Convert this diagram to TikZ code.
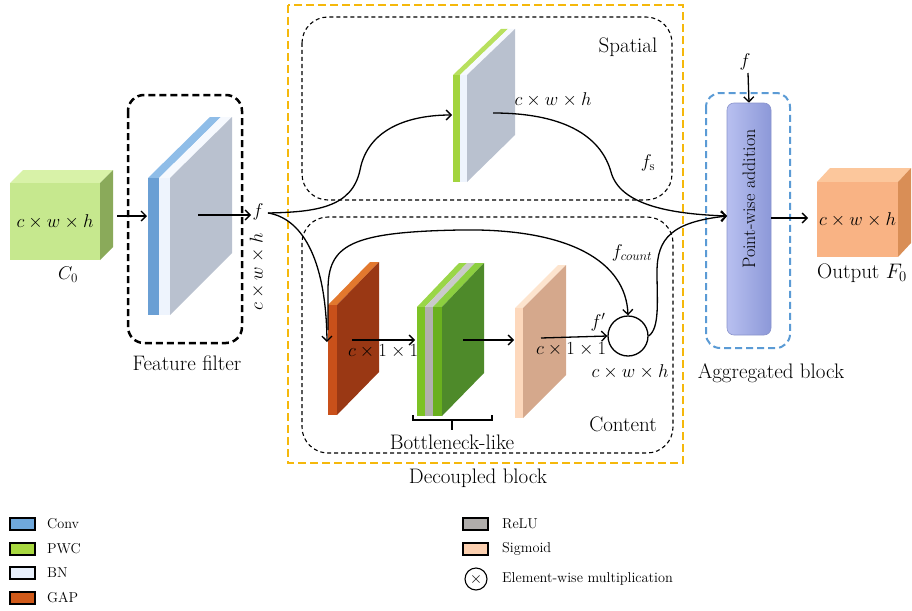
\RequirePackage{fix-cm}
\documentclass[tikz,border=0pt]{standalone}
\usetikzlibrary{arrows.meta}
\definecolor{convblue}{HTML}{6A9FD4}
\definecolor{convtop}{HTML}{8FBDE8}
\definecolor{bnwhite}{HTML}{EEF4FD}
\definecolor{bntop}{HTML}{F6F9FE}
\definecolor{slabgray}{HTML}{B9C1CF}
\definecolor{pwcgreen}{HTML}{A2D43E}
\definecolor{pwctop}{HTML}{B8E05E}
\definecolor{gapfront}{HTML}{C9501A}
\definecolor{gaptop}{HTML}{E2782E}
\definecolor{gapside}{HTML}{9A3814}
\definecolor{bnkA}{HTML}{7CC225}
\definecolor{bnkAtop}{HTML}{9AD648}
\definecolor{relugray}{HTML}{B2B0AE}
\definecolor{relutop}{HTML}{CACACA}
\definecolor{bnkB}{HTML}{6AB01E}
\definecolor{bnkBtop}{HTML}{8CCF40}
\definecolor{bnkside}{HTML}{4E8A2A}
\definecolor{sigfront}{HTML}{FDD8BC}
\definecolor{sigtop}{HTML}{FDE4CE}
\definecolor{sigside}{HTML}{D5A88C}
\definecolor{cubeGfront}{HTML}{C6E88E}
\definecolor{cubeGtop}{HTML}{D8F2A8}
\definecolor{cubeGside}{HTML}{8AAA5A}
\definecolor{cubeOfront}{HTML}{F9B384}
\definecolor{cubeOtop}{HTML}{FCC79C}
\definecolor{cubeOside}{HTML}{D98E56}
\definecolor{decoupled}{HTML}{F5B80C}
\definecolor{aggblue}{HTML}{5B9BD5}
\definecolor{barleft}{HTML}{B8C0F0}
\definecolor{barright}{HTML}{8C98D8}
\definecolor{barline}{HTML}{8A94CC}
\definecolor{legconv}{HTML}{6FA8DC}
\definecolor{legpwc}{HTML}{A8D840}
\definecolor{legbn}{HTML}{E8F0FC}
\definecolor{leggap}{HTML}{D05A1A}
\definecolor{legrelu}{HTML}{B0ADAB}
\definecolor{legsig}{HTML}{FCD0B0}
\tikzset{
  lbl/.style={inner sep=0pt, font=\fontsize{21}{24}\selectfont},
  mlbl/.style={inner sep=0pt, font=\fontsize{18.5}{21}\selectfont},
  leglbl/.style={inner sep=0pt, anchor=west, font=\fontsize{14.3}{17}\selectfont},
  legbox/.style={draw=black, line width=1.2pt},
  flow/.style={line width=1.3pt, -{Straight Barb[length=5pt,width=10pt,line width=1.3pt]}},
  filterbox/.style={draw=black, line width=2.5pt, dash pattern=on 7pt off 4pt, rounded corners=16pt},
  innerbox/.style={draw=black, line width=1.1pt, dash pattern=on 4pt off 3pt, rounded corners=26pt},
  outerbox/.style={draw=decoupled, line width=2.5pt, dash pattern=on 8pt off 4pt},
  aggbox/.style={draw=aggblue, line width=2pt, dash pattern=on 7pt off 4pt, rounded corners=14pt},
}
\begin{document}
\begin{tikzpicture}[x=1pt,y=-1pt]
\useasboundingbox (0,0) rectangle (912,610);

% ---------- dashed group frames ----------
\draw[outerbox] (288,5) rectangle (683,463);
\draw[innerbox] (302,17) rectangle (672,200);
\draw[innerbox] (302,217) rectangle (673,453);
\draw[filterbox] (128,95) rectangle (242,343);
\draw[aggbox] (706,93) rectangle (790,348);

% ---------- input cube C0 ----------
\fill[cubeGtop] (10,183) -- (100,183) -- (113,170) -- (23,170) -- cycle;
\fill[cubeGside] (100,183) -- (113,170) -- (113,247) -- (100,260) -- cycle;
\node[fill=cubeGfront, minimum width=90pt, minimum height=77pt, inner sep=0pt,
      font=\fontsize{18.5}{21}\selectfont] (c0) at (55,221.5) {$c\times w\times h$};
\node[mlbl] (c0lbl) at (68,275) {$C_0$};

% ---------- feature filter slab (Conv + BN) ----------
\fill[convtop] (148,178) -- (159,178) -- (221,117) -- (210,117) -- cycle;
\fill[bntop] (159,178) -- (170,178) -- (232,117) -- (221,117) -- cycle;
\fill[convblue] (148,178) rectangle (159,315);
\fill[bnwhite] (159,178) rectangle (170,315);
\fill[slabgray] (170,178) -- (232,117) -- (232,253) -- (170,315) -- cycle;
\node[lbl] (fflbl) at (187,363) {Feature filter};

% ---------- spatial slab (PWC + BN) ----------
\fill[pwctop] (453,75) -- (460,75) -- (508,29) -- (501,29) -- cycle;
\fill[bntop] (460,75) -- (467,75) -- (515,29) -- (508,29) -- cycle;
\fill[pwcgreen] (453,75) rectangle (460,182);
\fill[bnwhite] (460,75) rectangle (467,182);
\fill[slabgray] (467,75) -- (515,29) -- (515,135) -- (467,182) -- cycle;

% ---------- GAP slab ----------
\fill[gaptop] (328,305) -- (337,305) -- (379,262) -- (370,262) -- cycle;
\fill[gapfront] (328,305) rectangle (337,415);
\fill[gapside] (337,305) -- (379,262) -- (379,372) -- (337,415) -- cycle;

% ---------- bottleneck slab (PWC + ReLU + PWC) ----------
\fill[bnkAtop] (417,307) -- (425,307) -- (467,263) -- (459,263) -- cycle;
\fill[relutop] (425,307) -- (433,307) -- (475,263) -- (467,263) -- cycle;
\fill[bnkBtop] (433,307) -- (442,307) -- (484,263) -- (475,263) -- cycle;
\fill[bnkA] (417,307) rectangle (425,416);
\fill[relugray] (425,307) rectangle (433,416);
\fill[bnkB] (433,307) rectangle (442,416);
\fill[bnkside] (442,307) -- (484,263) -- (484,373) -- (442,416) -- cycle;
\draw[line width=1.3pt] (413,415) -- (413,420) -- (492,420) -- (492,415);
\draw[line width=1.3pt] (452,420) -- (452,430);
\node[lbl] (bnklbl) at (452,442) {Bottleneck-like};

% ---------- sigmoid slab ----------
\fill[sigtop] (515,308) -- (523,308) -- (566,265) -- (558,265) -- cycle;
\fill[sigfront] (515,308) rectangle (523,418);
\fill[sigside] (523,308) -- (566,265) -- (566,375) -- (523,418) -- cycle;

% ---------- element-wise multiplication ----------
\node[draw=black, line width=1.3pt, circle, minimum size=40pt, inner sep=0pt, fill=white] (mul) at (628,336) {};

% ---------- aggregation bar ----------
\node[rounded corners=7pt, left color=barleft, right color=barright, draw=barline, line width=0.6pt,
      minimum width=44pt, minimum height=232pt, inner sep=0pt] (add) at (749,219) {};
\node[inner sep=0pt, font=\fontsize{18}{21}\selectfont, rotate=90] (addlbl) at (749,199) {Point-wise addition};

% ---------- output cube ----------
\fill[cubeOtop] (817,182) -- (898,182) -- (911,168) -- (830,168) -- cycle;
\fill[cubeOside] (898,182) -- (911,168) -- (911,243) -- (898,257) -- cycle;
\node[fill=cubeOfront, minimum width=81pt, minimum height=75pt, inner sep=0pt,
      font=\fontsize{18.5}{21}\selectfont] (out) at (857.5,219.5) {$c\times w\times h$};
\node[lbl] (outlbl) at (862,273) {Output $F_0$};

% ---------- connector end points ----------
\coordinate (c0tail) at (117,216);
\coordinate (ffhead) at (147,216);
\coordinate (fftail) at (198,215);
\coordinate (fhead) at (251,215);
\coordinate (fsplit) at (268,213);
\coordinate (spin) at (452,115);
\coordinate (spout) at (493,113);
\coordinate (addin) at (727,216);
\coordinate (gapin) at (327,342);
\coordinate (gaptail) at (352,340);
\coordinate (bnkin) at (415,340);
\coordinate (bnktail) at (463,340);
\coordinate (sigin) at (514,340);
\coordinate (sigtail) at (541,338);
\coordinate (loopstart) at (328,330);
\coordinate (ftop) at (748,73);
\coordinate (addtail) at (771,218);
\coordinate (outin) at (808,218);

% ---------- connectors ----------
\draw[flow] (c0tail) -- (ffhead);
\draw[flow] (fftail) -- (fhead);
\draw[flow] (fsplit) .. controls (315,212) and (352,208) .. (360,170)
                     .. controls (368,128) and (410,115) .. (spin);
\draw[flow] (spout) .. controls (570,113) and (602,140) .. (611,172)
                    .. controls (620,205) and (670,214) .. (addin);
\draw[flow] (fsplit) .. controls (300,218) and (326,255) .. (gapin);
\draw[flow] (loopstart) -- (328,290) .. controls (328,245) and (350,232) .. (460,230)
                        .. controls (570,228) and (626,262) .. (mul.north);
\draw[flow] (gaptail) -- (bnkin);
\draw[flow] (bnktail) -- (sigin);
\draw[flow] (sigtail) -- (mul.west);
\draw[flow] (mul.east) .. controls (660,328) and (657,300) .. (657,272)
                       .. controls (657,238) and (672,222) .. (addin);
\draw[flow] (ftop) -- (add.north);
\draw[flow] (addtail) -- (outin);

% ---------- labels ----------
\node[mlbl] (flbl) at (258,212) {$f$};
\node[mlbl, rotate=90] (fdim) at (257,272) {$c\times w\times h$};
\node[lbl] (splbl) at (628,47) {Spatial};
\node[mlbl] (spdim) at (553,100) {$c\times w\times h$};
\node[mlbl] (fslbl) at (648,163) {$f_{\mathrm{s}}$};
\node[mlbl] (gapdim) at (383,351) {$c\times 1\times 1$};
\node[mlbl] (sigdim) at (571,349) {$c\times 1\times 1$};
\node[mlbl] (fprime) at (598,322) {$f'$};
\node[mlbl] (muldim) at (630,372) {$c\times w\times h$};
\node[mlbl] (fcount) at (632,253) {$f_{count}$};
\node[lbl] (ctlbl) at (623,424) {Content};
\node[lbl] (declbl) at (478,478) {Decoupled block};
\node[mlbl] (faddlbl) at (745,62) {$f$};
\node[lbl] (agglbl) at (771,373) {Aggregated block};

% ---------- legend ----------
\draw[legbox, fill=legconv] (10,518) rectangle (35,530);
\node[leglbl] (lconv) at (47,524) {Conv};
\draw[legbox, fill=legpwc] (10,543) rectangle (35,555);
\node[leglbl] (lpwc) at (47,549) {PWC};
\draw[legbox, fill=legbn] (10,567) rectangle (35,579);
\node[leglbl] (lbn) at (47,573) {BN};
\draw[legbox, fill=leggap] (10,592) rectangle (35,604);
\node[leglbl] (lgap) at (47,598) {GAP};
\draw[legbox, fill=legrelu] (463,518) rectangle (488,530);
\node[leglbl] (lrelu) at (502,524) {ReLU};
\draw[legbox, fill=legsig] (463,543) rectangle (488,555);
\node[leglbl] (lsig) at (502,549) {Sigmoid};
\node[draw=black, line width=1.1pt, circle, minimum size=22pt, inner sep=0pt,
      font=\fontsize{16}{18}\selectfont] (lmul) at (476,579) {$\times$};
\node[leglbl] (lmullbl) at (502,579) {Element-wise multiplication};
\end{tikzpicture}
\end{document}
